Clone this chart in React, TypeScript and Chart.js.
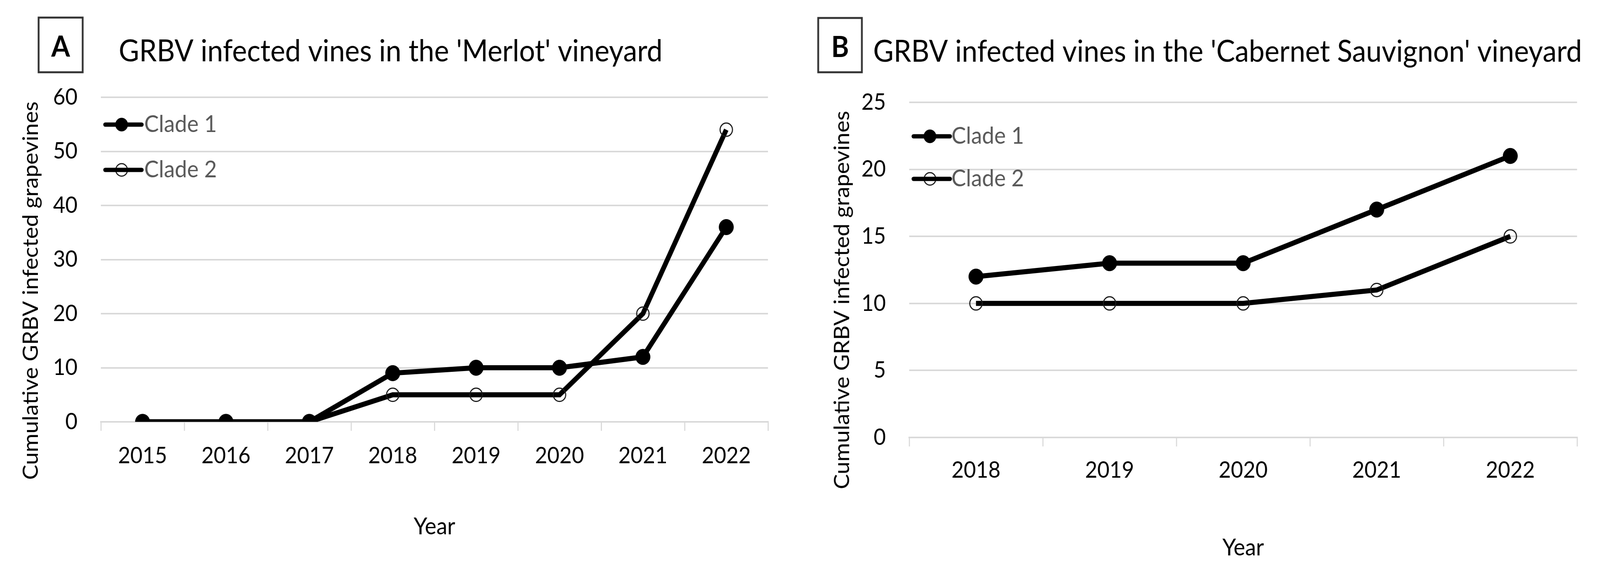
import React, { useEffect, useRef } from "react";
import { Chart, registerables } from "chart.js";

Chart.register(...registerables);

// ---------- data ----------
const yearsA = ["2015", "2016", "2017", "2018", "2019", "2020", "2021", "2022"];
const clade1A = [0, 0, 0, 9, 10, 10, 12, 36];
const clade2A = [0, 0, 0, 5, 5, 5, 20, 54];

const yearsB = ["2018", "2019", "2020", "2021", "2022"];
const clade1B = [12, 13, 13, 17, 21];
const clade2B = [10, 10, 10, 11, 15];

const seriesNames = ["Clade 1", "Clade 2"];
const titleA = "GRBV infected vines in the 'Merlot' vineyard";
const titleB = "GRBV infected vines in the 'Cabernet Sauvignon' vineyard";
const yTitleText = "Cumulative GRBV infected grapevines";
const xTitleText = "Year";
const yMaxA = 60;
const yStepA = 10;
const yMaxB = 25;
const yStepB = 5;

// ---------- layout (in reference pixels) ----------
const W = 4395;
const H = 1467;
const FONT = "Lato, 'Noto Sans', sans-serif";

type PanelCfg = {
  labels: string[];
  c1: number[];
  c2: number[];
  yMax: number;
  yStep: number;
  title: string;
  letter: string;
  canvasLeft: number;
  canvasWidth: number;
  padTop: number;
  yAxisWidth: number;
  padRight: number;
  xAxisHeight: number;
  tickPadX: number;
  xTitlePadBottom: number;
  box: { x: number; y: number; w: number; h: number };
  titleX: number;
  titleBaseline: number;
  legendYs: number[];
  legendLine: [number, number];
  legendMarkerX: number;
  legendTextX: number;
  yTitleX: number;
  yTitleCY: number;
};

const panelA: PanelCfg = {
  labels: yearsA,
  c1: clade1A,
  c2: clade2A,
  yMax: yMaxA,
  yStep: yStepA,
  title: titleA,
  letter: "A",
  canvasLeft: 0,
  canvasWidth: 2197,
  padTop: 249,
  yAxisWidth: 277,
  padRight: 88,
  xAxisHeight: 387,
  tickPadX: 29,
  xTitlePadBottom: 82,
  box: { x: 106, y: 45, w: 121, h: 140 },
  titleX: 326,
  titleBaseline: 157,
  legendYs: [319, 435],
  legendLine: [289, 389],
  legendMarkerX: 334,
  legendTextX: 396,
  yTitleX: 85,
  yTitleCY: 744,
};

const panelB: PanelCfg = {
  labels: yearsB,
  c1: clade1B,
  c2: clade2B,
  yMax: yMaxB,
  yStep: yStepB,
  title: titleB,
  letter: "B",
  canvasLeft: 2197,
  canvasWidth: 2198,
  padTop: 262,
  yAxisWidth: 300,
  padRight: 63,
  xAxisHeight: 347,
  tickPadX: 26,
  xTitlePadBottom: 28,
  box: { x: 50, y: 46, w: 120, h: 139 },
  titleX: 201,
  titleBaseline: 158,
  legendYs: [349, 458],
  legendLine: [312, 412],
  legendMarkerX: 357,
  legendTextX: 416,
  yTitleX: 116,
  yTitleCY: 768,
};

function makeDecor(p: PanelCfg) {
  return {
    id: "panelDecor" + p.letter,
    afterDraw(chart: any) {
      const ctx = chart.ctx as CanvasRenderingContext2D;
      ctx.save();
      // letter box
      ctx.strokeStyle = "#333333";
      ctx.lineWidth = 5;
      ctx.strokeRect(p.box.x, p.box.y, p.box.w, p.box.h);
      ctx.fillStyle = "#000";
      ctx.font = `bold 74px ${FONT}`;
      ctx.textAlign = "center";
      ctx.textBaseline = "alphabetic";
      ctx.fillText(p.letter, p.box.x + p.box.w / 2, p.box.y + 100);
      // title
      ctx.textAlign = "left";
      ctx.font = `77px ${FONT}`;
      ctx.fillText(p.title, p.titleX, p.titleBaseline);
      // y title
      ctx.save();
      ctx.translate(p.yTitleX, p.yTitleCY);
      ctx.rotate(-Math.PI / 2);
      ctx.textAlign = "center";
      ctx.textBaseline = "middle";
      ctx.font = `58px ${FONT}`;
      ctx.fillText(yTitleText, 0, 0);
      ctx.restore();
      // legend
      chart.data.datasets.forEach((ds: any, i: number) => {
        const y = p.legendYs[i];
        ctx.beginPath();
        ctx.arc(p.legendMarkerX, y, i === 0 ? 17 : 16, 0, Math.PI * 2);
        ctx.fillStyle = ds.pointBackgroundColor;
        ctx.fill();
        ctx.lineWidth = ds.pointBorderWidth;
        ctx.strokeStyle = ds.pointBorderColor;
        ctx.stroke();
        ctx.strokeStyle = ds.borderColor;
        ctx.lineWidth = 11;
        ctx.lineCap = "round";
        ctx.beginPath();
        ctx.moveTo(p.legendLine[0], y);
        ctx.lineTo(p.legendLine[1], y);
        ctx.stroke();
        ctx.fillStyle = "#595959";
        ctx.font = `60px ${FONT}`;
        ctx.textAlign = "left";
        ctx.textBaseline = "middle";
        ctx.fillText(ds.label, p.legendTextX, y);
      });
      ctx.restore();
    },
  };
}

function Panel({ p, sx, sy }: { p: PanelCfg; sx: number; sy: number }) {
  const ref = useRef<HTMLCanvasElement>(null);
  useEffect(() => {
    const canvas = ref.current;
    if (!canvas) return;
    const chart = new Chart(canvas, {
      type: "line",
      data: {
        labels: p.labels,
        datasets: [
          {
            label: seriesNames[0],
            data: p.c1,
            borderColor: "#000000",
            borderWidth: 13,
            pointRadius: 20,
            pointBackgroundColor: "#000000",
            pointBorderColor: "#000000",
            pointBorderWidth: 1,
            tension: 0,
          },
          {
            label: seriesNames[1],
            data: p.c2,
            borderColor: "#000000",
            borderWidth: 13,
            pointRadius: 17,
            pointBackgroundColor: "rgba(255,255,255,0)",
            pointBorderColor: "#1a1a1a",
            pointBorderWidth: 3,
            tension: 0,
          },
        ],
      },
      options: {
        animation: false,
        responsive: false,
        devicePixelRatio: 1,
        layout: { padding: { top: p.padTop, right: p.padRight, left: 0, bottom: 0 } },
        plugins: {
          legend: { display: false },
          title: { display: false },
          tooltip: { enabled: false },
        },
        scales: {
          x: {
            type: "category",
            offset: true,
            grid: {
              offset: true,
              drawOnChartArea: false,
              drawTicks: true,
              tickLength: 23,
              color: "#d9d9d9",
              lineWidth: 3,
            },
            border: { display: true, color: "#d9d9d9", width: 4 },
            ticks: {
              color: "#000000",
              font: { family: FONT, size: 58 },
              padding: p.tickPadX,
              maxRotation: 0,
            },
            title: {
              display: true,
              text: xTitleText,
              color: "#000000",
              font: { family: FONT, size: 60 },
              padding: { top: 0, bottom: p.xTitlePadBottom },
            },
            afterFit: (scale: any) => {
              scale.height = p.xAxisHeight;
            },
          },
          y: {
            min: 0,
            max: p.yMax,
            grid: {
              color: "#d9d9d9",
              lineWidth: 4,
              drawTicks: false,
            },
            border: { display: false },
            ticks: {
              stepSize: p.yStep,
              color: "#000000",
              font: { family: FONT, size: 58 },
              padding: 64,
            },
            afterFit: (scale: any) => {
              scale.width = p.yAxisWidth;
            },
          },
        },
      },
      plugins: [makeDecor(p)],
    });
    return () => chart.destroy();
  }, [p]);
  return (
    <canvas
      ref={ref}
      width={p.canvasWidth}
      height={H}
      style={{
        position: "absolute",
        left: p.canvasLeft * sx,
        top: 0,
        width: p.canvasWidth * sx,
        height: H * sy,
        display: "block",
      }}
    />
  );
}

export default function App() {
  const hasWin = typeof window !== "undefined";
  const sx = hasWin && window.innerWidth ? window.innerWidth / W : 1;
  const sy = hasWin && window.innerHeight ? window.innerHeight / H : 1;
  return (
    <div
      style={{
        position: "absolute",
        left: 0,
        top: 0,
        width: W * sx,
        height: H * sy,
        background: "#ffffff",
        overflow: "hidden",
      }}
    >
      <Panel p={panelA} sx={sx} sy={sy} />
      <Panel p={panelB} sx={sx} sy={sy} />
    </div>
  );
}
